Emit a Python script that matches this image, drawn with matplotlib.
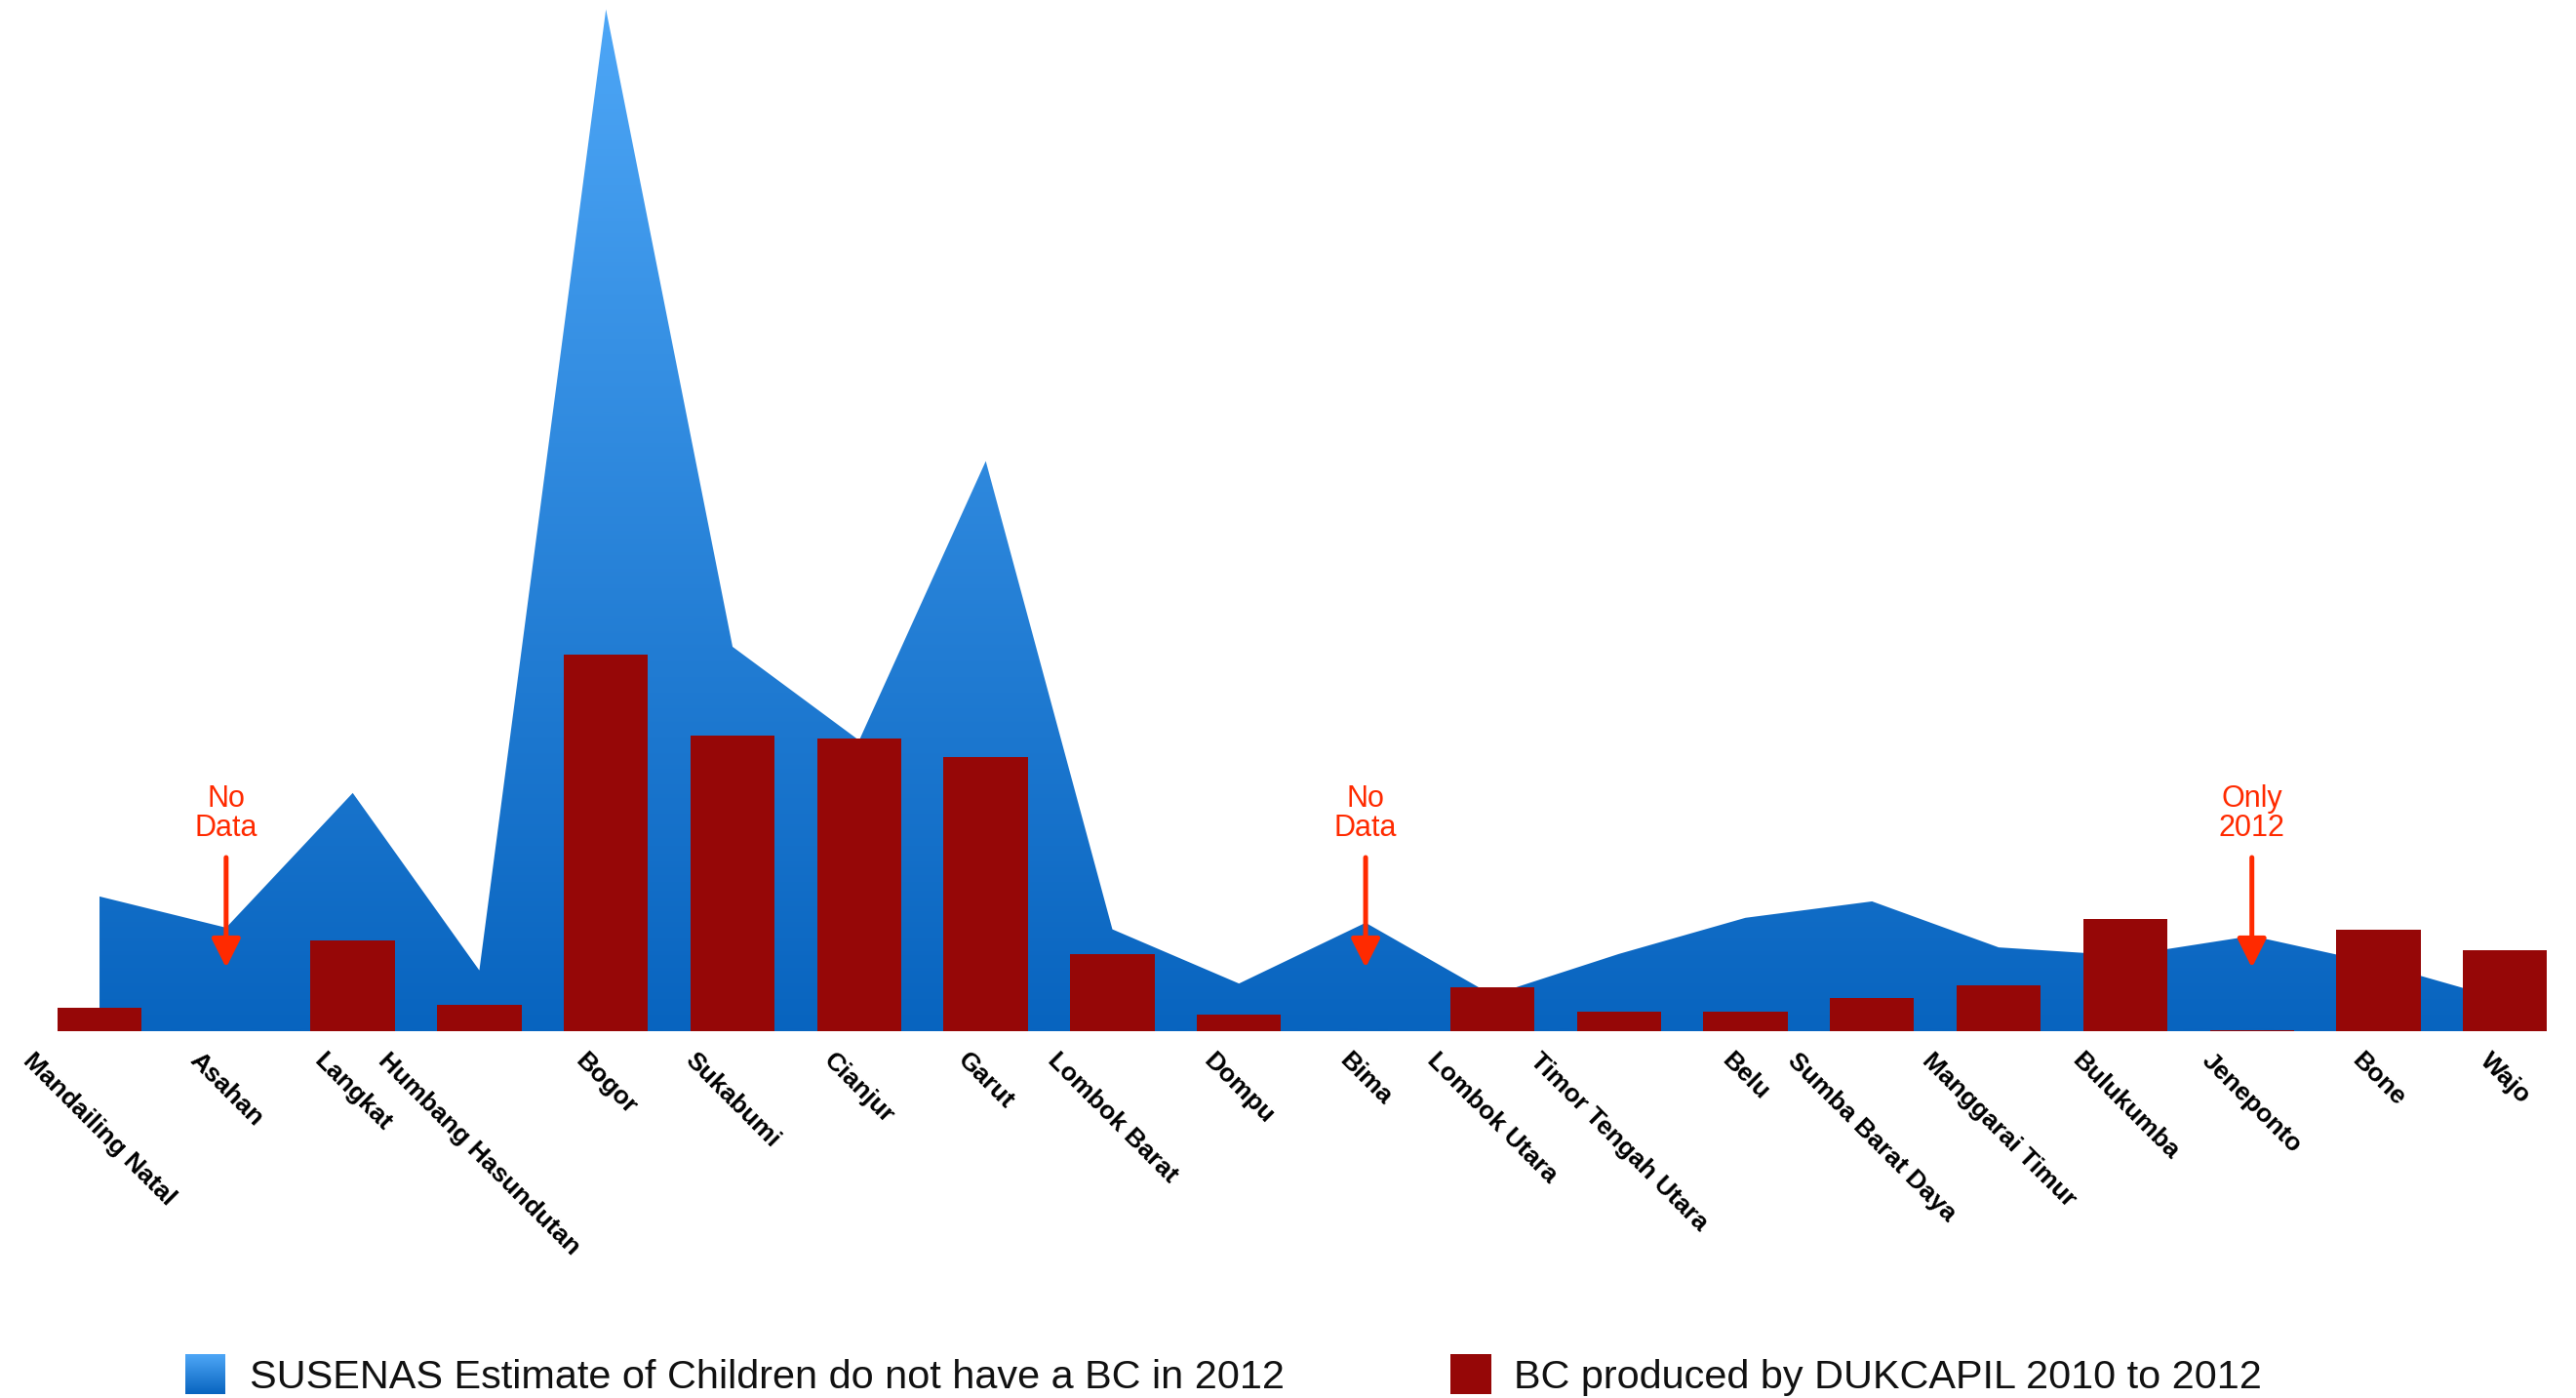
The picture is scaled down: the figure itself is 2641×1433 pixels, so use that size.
import numpy as np
import matplotlib
matplotlib.use("Agg")
import matplotlib.pyplot as plt
from matplotlib.colors import LinearSegmentedColormap
from matplotlib.patches import PathPatch, Rectangle
from matplotlib.path import Path

categories = ["Mandailing Natal", "Asahan", "Langkat", "Humbang Hasundutan", "Bogor",
              "Sukabumi", "Cianjur", "Garut", "Lombok Barat", "Dompu", "Bima",
              "Lombok Utara", "Timor Tengah Utara", "Belu", "Sumba Barat Daya",
              "Manggarai Timur", "Bulukumba", "Jeneponto", "Bone", "Wajo"]
susenas = [82, 63, 145, 37, 622, 234, 177, 347, 62, 29, 66, 22, 47, 69, 79, 51, 46, 58, 41, 19]
dukcapil = [14, 0, 55, 16, 229, 180, 178, 167, 47, 10, 0, 27, 12, 12, 20, 28, 68, 0.5, 62, 49]
notes = {1: "No\nData", 10: "No\nData", 17: "Only\n2012"}
legend_labels = ["SUSENAS Estimate of Children do not have a BC in 2012",
                 "BC produced by DUKCAPIL 2010 to 2012"]

W, H = 2641, 1433
fig = plt.figure(figsize=(W / 100, H / 100), dpi=100)
base_frac = (H - 1057) / H
ax = fig.add_axes([0, base_frac, 1, 1 - base_frac])
ymax = 1057 / 1.684
xlo, xhi = -0.786, 19.56
ax.set_xlim(xlo, xhi)
ax.set_ylim(0, ymax)

x = np.arange(len(categories))
blue_cmap = LinearSegmentedColormap.from_list("b", ["#0864BF", "#4EA7F7"])
red = "#960707"

# area with vertical gradient
verts = [(x[0], 0)] + list(zip(x, susenas)) + [(x[-1], 0), (x[0], 0)]
codes = [Path.MOVETO] + [Path.LINETO] * (len(verts) - 2) + [Path.CLOSEPOLY]
area_path = Path(verts, codes)
patch = PathPatch(area_path, facecolor="none", edgecolor="none")
ax.add_patch(patch)
grad = np.linspace(0, 1, 512).reshape(-1, 1)
im = ax.imshow(grad, extent=[xlo, xhi, 0, ymax], origin="lower", cmap=blue_cmap,
               aspect="auto", zorder=1, interpolation="bilinear")
im.set_clip_path(patch)

ax.bar(x, dukcapil, width=0.665, color=red, zorder=2, linewidth=0)

for i, txt in notes.items():
    ax.text(i, 132.5, txt, ha="center", va="center", color="#FF2A00", fontsize=22,
            family="Liberation Sans", linespacing=1.0, zorder=4)
    ax.annotate("", xy=(i, 38.6), xytext=(i, 105.7),
                arrowprops=dict(arrowstyle="-|>,head_length=0.9,head_width=0.45",
                                mutation_scale=20, color="#FF2A00", lw=3.6,
                                shrinkA=0, shrinkB=0), zorder=4)

ax.set_xticks(x)
ax.set_xticklabels(categories, rotation=-45, ha="center", va="top",
                   fontsize=19, fontweight="bold", family="Liberation Sans")
ax.tick_params(axis="x", length=0, pad=13)
ax.set_yticks([])
for s in ax.spines.values():
    s.set_visible(False)
ax.patch.set_alpha(0)

# legend
lax = fig.add_axes([190 / W, (H - 1429) / H, 41 / W, 41 / H])
lax.imshow(grad, extent=[0, 1, 0, 1], origin="lower", cmap=blue_cmap, aspect="auto")
lax.axis("off")
fig.patches.append(Rectangle((1487 / W, (H - 1429) / H), 42 / W, 41 / H,
                             transform=fig.transFigure, facecolor=red, edgecolor="none"))
fig.text(256 / W, (H - 1423) / H, legend_labels[0], fontsize=29.8, family="Liberation Sans",
         va="baseline", ha="left", color="#111111")
fig.text(1552 / W, (H - 1423) / H, legend_labels[1], fontsize=29.8, family="Liberation Sans",
         va="baseline", ha="left", color="#111111")

fig.savefig("out.png", dpi=100)
